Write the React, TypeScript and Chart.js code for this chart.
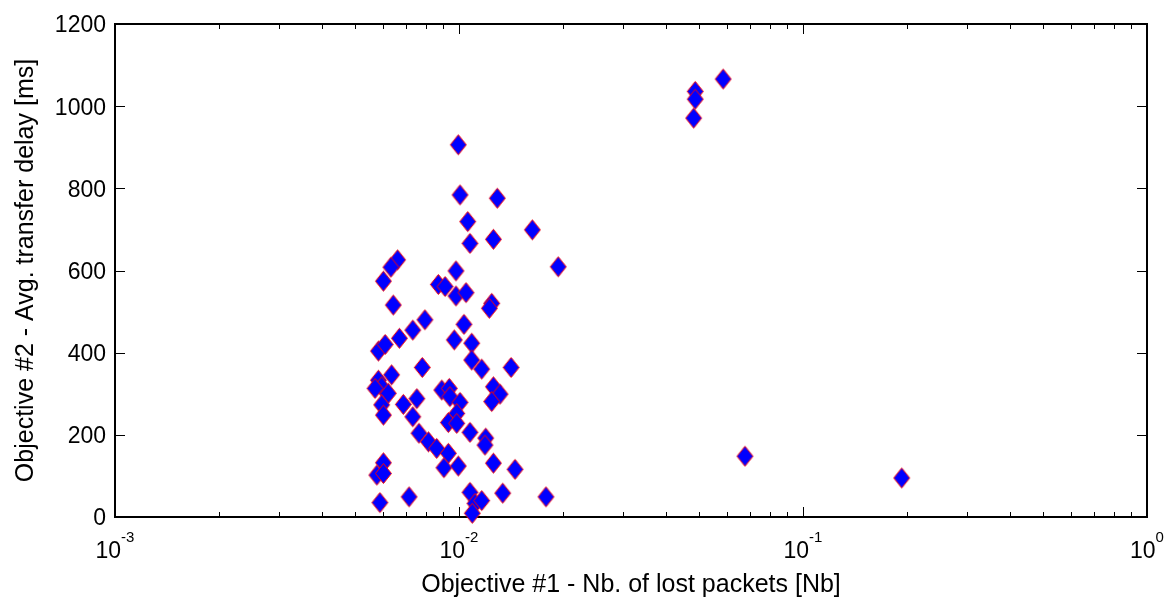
import React, { useEffect, useRef } from "react";
import { Chart, registerables } from "chart.js";

Chart.register(...registerables);

// Objective #1 - lost packets (log scale)
const lostPackets: number[] = [
  0.01076, 0.01259, 0.00663, 0.00634, 0.00603, 0.01943, 0.0098, 0.00871, 0.00911, 0.0098,
  0.01048, 0.00644, 0.01245, 0.01225, 0.00796, 0.00734, 0.00671, 0.01034, 0.00969, 0.01089,
  0.00583, 0.0061, 0.01089, 0.01164, 0.01417, 0.00782, 0.00637, 0.00583, 0.00596, 0.0057,
  0.00623, 0.00596, 0.00603, 0.00689, 0.00754, 0.00734, 0.00891, 0.00937, 0.00941, 0.01007,
  0.00985, 0.00931, 0.00985, 0.01259, 0.01316, 0.01245, 0.01076, 0.01196, 0.0119, 0.00765,
  0.00815, 0.00861, 0.00931, 0.00904, 0.00995, 0.01259, 0.01455, 0.00603, 0.00577, 0.00603,
  0.00589, 0.00716, 0.01076, 0.01113, 0.01164, 0.01093, 0.0134, 0.0179, 0.00995, 0.01007,
  0.01292, 0.0106, 0.01634, 0.0586, 0.0486, 0.0486, 0.0481, 0.0678, 0.1936,
];

// Objective #2 - average transfer delay [ms]
const transferDelay: number[] = [
  666, 676, 626, 608, 574, 609, 599, 566, 561, 538,
  546, 516, 520, 508, 480, 455, 435, 469, 431, 423,
  404, 420, 382, 360, 364, 364, 346, 333, 317, 313,
  301, 273, 248, 274, 288, 244, 309, 313, 293, 279,
  252, 230, 228, 317, 299, 281, 206, 192, 175, 204,
  183, 167, 155, 120, 124, 131, 116, 132, 102, 106,
  35, 49, 60, 33, 40, 9, 58, 49, 906, 784,
  776, 719, 699, 1066, 1036, 1017, 971, 148, 95,
];

const yTickValues: number[] = [0, 200, 400, 600, 800, 1000, 1200];
const xDecadeExponents: number[] = [-3, -2, -1, 0];
const xMinorMultipliers: number[] = [2, 3, 4, 5, 6, 7, 8, 9];
const xTitle = "Objective #1 - Nb. of lost packets [Nb]";
const yTitle = "Objective #2 - Avg. transfer delay [ms]";

const FONT = '"Liberation Sans", Arial, Helvetica, sans-serif';

function makeDiamond(hw: number, hh: number): HTMLCanvasElement {
  const c = document.createElement("canvas");
  c.width = hw * 2 + 3;
  c.height = hh * 2 + 3;
  const ctx = c.getContext("2d")!;
  const cx = c.width / 2;
  const cy = c.height / 2;
  ctx.beginPath();
  ctx.moveTo(cx, cy - hh);
  ctx.lineTo(cx + hw, cy);
  ctx.lineTo(cx, cy + hh);
  ctx.lineTo(cx - hw, cy);
  ctx.closePath();
  ctx.fillStyle = "#0000ff";
  ctx.fill();
  ctx.strokeStyle = "#ff0000";
  ctx.lineWidth = 1;
  ctx.stroke();
  return c;
}

const axesPlugin = {
  id: "matlabAxes",
  beforeDatasetsDraw(chart: any) {
    const { ctx, chartArea: a, scales } = chart;
    const x = scales.x;
    const y = scales.y;
    ctx.save();
    ctx.strokeStyle = "#000";
    // ticks
    ctx.lineWidth = 1;
    ctx.beginPath();
    for (const v of yTickValues) {
      const py = Math.round(y.getPixelForValue(v)) + 0.5;
      ctx.moveTo(a.left, py);
      ctx.lineTo(a.left + 10, py);
      ctx.moveTo(a.right, py);
      ctx.lineTo(a.right - 10, py);
    }
    for (const e of xDecadeExponents) {
      const px = Math.round(x.getPixelForValue(Math.pow(10, e))) + 0.5;
      ctx.moveTo(px, a.bottom);
      ctx.lineTo(px, a.bottom - 10);
      ctx.moveTo(px, a.top);
      ctx.lineTo(px, a.top + 10);
    }
    for (let i = 0; i < xDecadeExponents.length - 1; i++) {
      for (const k of xMinorMultipliers) {
        const px = Math.round(x.getPixelForValue(k * Math.pow(10, xDecadeExponents[i]))) + 0.5;
        ctx.moveTo(px, a.bottom);
        ctx.lineTo(px, a.bottom - 5);
        ctx.moveTo(px, a.top);
        ctx.lineTo(px, a.top + 5);
      }
    }
    ctx.stroke();
    // box
    ctx.lineWidth = 2;
    ctx.strokeRect(a.left, a.top, a.right - a.left, a.bottom - a.top);

    // y tick labels
    ctx.fillStyle = "#000";
    ctx.font = `23px ${FONT}`;
    ctx.textAlign = "right";
    ctx.textBaseline = "middle";
    for (const v of yTickValues) {
      ctx.fillText(String(v), a.left - 9, y.getPixelForValue(v) + 2);
    }
    // x tick labels 10^e
    ctx.textBaseline = "alphabetic";
    ctx.textAlign = "left";
    for (const e of xDecadeExponents) {
      const px = x.getPixelForValue(Math.pow(10, e));
      ctx.font = `23px ${FONT}`;
      const wBase = ctx.measureText("10").width;
      ctx.font = `15px ${FONT}`;
      const expText = String(e);
      const wExp = ctx.measureText(expText).width;
      const start = px - (wBase + wExp) / 2;
      ctx.font = `23px ${FONT}`;
      ctx.fillText("10", start, a.bottom + 41);
      ctx.font = `15px ${FONT}`;
      ctx.fillText(expText, start + wBase, a.bottom + 25);
    }
    // titles
    ctx.font = `25px ${FONT}`;
    ctx.textAlign = "center";
    ctx.fillText(xTitle, (a.left + a.right) / 2, a.bottom + 75);
    ctx.translate(33, (a.top + a.bottom) / 2);
    ctx.rotate(-Math.PI / 2);
    ctx.fillText(yTitle, 0, 0);
    ctx.restore();
  },
};

export default function App() {
  const canvasRef = useRef<HTMLCanvasElement | null>(null);

  useEffect(() => {
    const canvas = canvasRef.current;
    if (!canvas) return;
    const marker = makeDiamond(8, 10);
    const points = lostPackets.map((v, i) => ({ x: v, y: transferDelay[i] }));
    const chart = new Chart(canvas, {
      type: "scatter",
      data: {
        datasets: [
          {
            data: points,
            pointStyle: marker as any,
            pointRadius: 10,
            pointHoverRadius: 10,
            backgroundColor: "#0000ff",
            borderColor: "#ff0000",
          },
        ],
      },
      options: {
        animation: false,
        responsive: false,
        devicePixelRatio: 1,
        clip: false as any,
        layout: { padding: { left: 115, top: 24, right: 28, bottom: 80 } },
        plugins: {
          legend: { display: false },
          tooltip: { enabled: false },
        },
        events: [],
        scales: {
          x: { type: "logarithmic", min: 0.001, max: 1, display: false },
          y: { type: "linear", min: 0, max: 1200, display: false },
        },
      },
      plugins: [axesPlugin],
    });
    return () => chart.destroy();
  }, []);

  return (
    <div style={{ position: "fixed", left: 0, top: 0, width: 1175, height: 597, background: "#fff" }}>
      <canvas ref={canvasRef} width={1175} height={597} />
    </div>
  );
}
